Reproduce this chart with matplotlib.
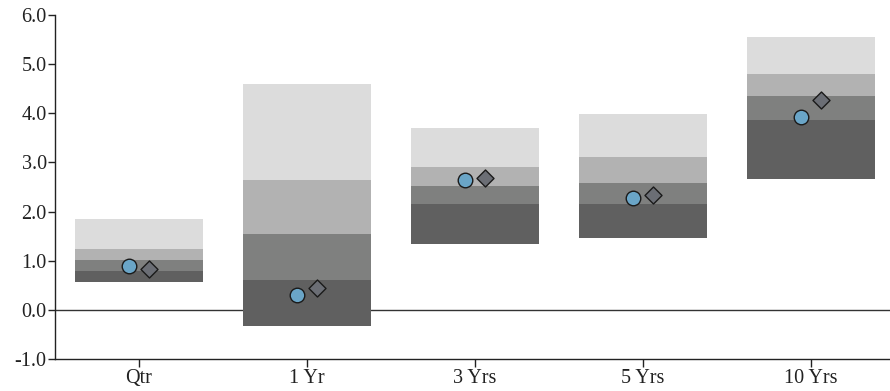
import numpy as np
import matplotlib.pyplot as plt

plt.rcParams['font.family'] = ['Liberation Serif', 'DejaVu Serif']

cats = ["Qtr", "1 Yr", "3 Yrs", "5 Yrs", "10 Yrs"]
# percentile boundaries (bottom -> top)
p5 = [0.57, -0.33, 1.33, 1.47, 2.66]
p25 = [0.80, 0.61, 2.16, 2.16, 3.87]
p50 = [1.01, 1.55, 2.53, 2.59, 4.35]
p75 = [1.23, 2.64, 2.90, 3.11, 4.80]
p95 = [1.85, 4.59, 3.70, 3.98, 5.55]
circle_vals = [0.89, 0.30, 2.65, 2.27, 3.93]
diamond_vals = [0.83, 0.44, 2.68, 2.33, 4.27]

seg_colors = ["#606060", "#7f807f", "#b2b2b2", "#dcdcdc"]

fig = plt.figure(figsize=(8.9, 3.91), dpi=100)
ax = fig.add_axes([55/890, 32/391, 1 - 55/890, 344/391])

x = np.arange(len(cats))
w = 0.76
bounds = [p5, p25, p50, p75, p95]
for i in range(4):
    lo = np.array(bounds[i])
    hi = np.array(bounds[i + 1])
    ax.bar(x, hi - lo, bottom=lo, width=w, color=seg_colors[i],
           linewidth=0, zorder=2)

ax.axhline(0, color="#333333", linewidth=1.0, zorder=1)

ax.scatter(x - 0.058, circle_vals, s=110, marker="o", color="#6aa5c7",
           edgecolor="#1a1a1a", linewidth=1.0, zorder=3)
ax.scatter(x + 0.058, diamond_vals, s=75, marker="D", color="#6b6e75",
           edgecolor="#1a1a1a", linewidth=1.0, zorder=3)

ax.set_xlim(-0.5, 4.47)
ax.set_ylim(-1, 6)
ax.set_yticks(np.arange(-1, 7, 1))
ax.set_yticklabels([f"{v:.1f}" for v in np.arange(-1, 7, 1)])
ax.set_xticks(x)
ax.set_xticklabels(cats)

for s in ["top", "right"]:
    ax.spines[s].set_visible(False)
for s in ["left", "bottom"]:
    ax.spines[s].set_color("#222222")
    ax.spines[s].set_linewidth(1.0)

ax.tick_params(axis="y", direction="out", length=5, width=1, pad=1,
               labelsize=14.5, colors="#222222")
ax.tick_params(axis="x", direction="out", length=6, width=1, pad=1,
               labelsize=14.5, colors="#222222")

fig.savefig("out.png", dpi=100)
